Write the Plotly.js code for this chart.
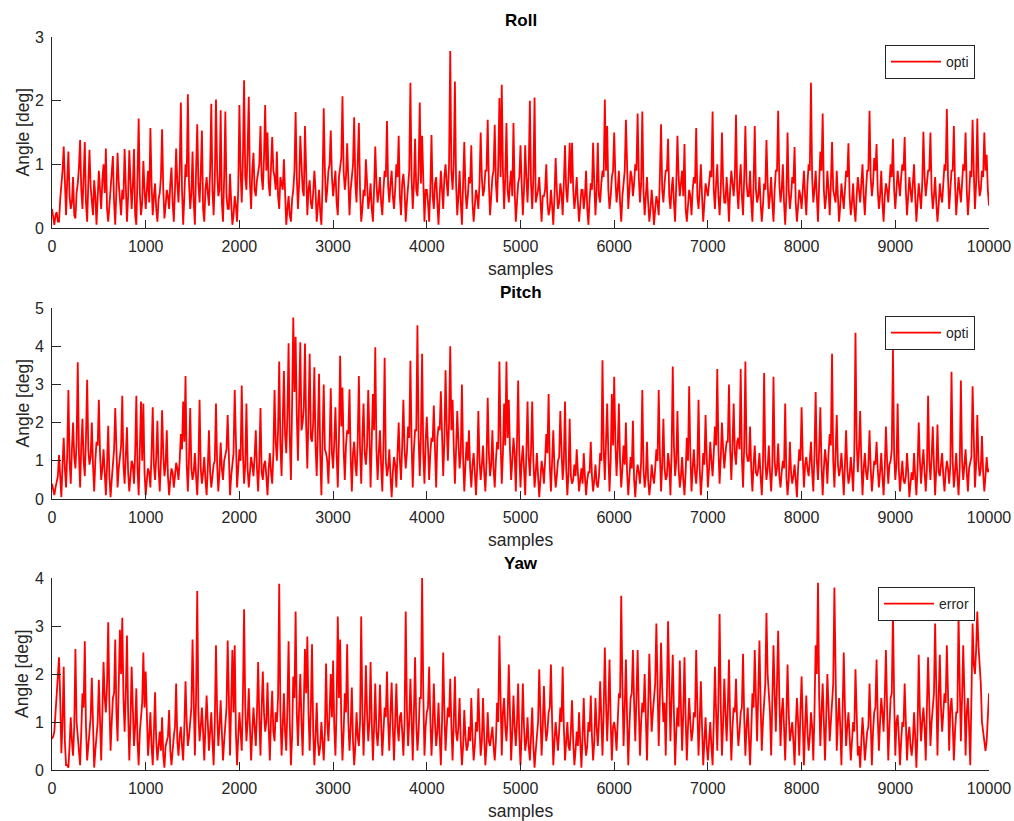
<!DOCTYPE html>
<html>
<head>
<meta charset="utf-8">
<script src="https://cdn.plot.ly/plotly-3.0.1.min.js"></script>
<style>
html,body{margin:0;padding:0;background:#fff;}
#chart{width:1014px;height:821px;}
</style>
</head>
<body>
<div id="chart"></div>
<script>
// Values at two interleaved sample grids:
// "A" arrays at samples 0, 25, 50, ... 10000 ; "B" arrays at 12.5, 37.5, ... 9987.5
const STEP = 25;

// Roll angle [deg]
const rollA = [
0.3,0.05,0.25,0.1,0.65,1.28,0.2,1.2,0.3,0.8,0.15,0.7,1.38,0.3,1.35,0.1,1.23,0.4,0.75,0.05,0.9,0.3,1.0,1.25,0.1,0.6,1.13,0.05,1.18,0.35,0.6,1.24,0.1,1.22,0.3,1.24,0.05,1.72,0.2,1.05,
0.3,0.9,1.57,0.2,0.7,0.1,0.55,1.55,0.15,0.6,0.3,0.95,0.1,1.25,0.4,1.97,0.05,1.0,2.1,0.3,1.2,0.05,1.63,0.4,1.53,0.1,0.8,0.35,1.95,0.2,2.02,0.5,1.85,0.1,1.83,0.3,0.85,0.05,0.5,0.1,
1.93,0.4,2.32,0.6,2.06,0.3,1.18,0.5,0.9,1.6,0.6,1.93,1.5,0.5,1.43,0.8,1.2,0.3,0.7,1.08,0.05,0.5,0.1,0.6,1.82,0.3,1.45,0.6,1.6,0.2,0.75,0.3,0.9,0.1,0.6,0.05,1.88,0.4,0.9,1.53,
0.5,0.9,0.2,1.0,2.07,0.6,1.33,0.2,0.8,1.74,0.4,1.65,0.1,0.6,1.08,0.3,0.7,0.1,1.28,0.4,0.8,0.2,0.9,1.68,0.4,0.9,0.3,1.0,1.45,0.2,0.85,0.1,0.7,2.28,0.3,1.4,0.5,1.97,1.45,0.1,
0.6,0.1,1.46,0.3,0.8,0.05,0.9,0.3,1.0,0.5,2.78,0.6,2.3,0.2,0.9,0.05,1.35,0.3,0.8,1.3,0.1,0.6,0.3,1.5,0.5,0.9,1.7,0.2,0.8,1.62,0.4,2.04,2.25,0.3,1.65,0.4,0.9,1.65,0.1,0.7,
1.3,0.2,1.3,0.4,2.0,0.3,2.05,0.5,0.8,0.1,0.5,1.0,0.2,0.6,0.05,1.1,0.3,0.7,0.2,1.3,0.4,1.34,1.34,0.3,0.8,0.1,0.6,0.3,0.9,0.05,0.7,1.34,0.2,1.34,0.4,0.9,2.02,1.6,0.3,0.8,
1.5,0.4,0.9,0.1,0.7,1.7,0.3,0.9,0.5,1.0,1.8,0.4,1.83,0.2,0.8,0.1,0.6,0.05,0.5,0.2,1.63,0.4,0.9,1.4,0.3,0.8,0.1,1.45,0.5,0.9,1.32,0.1,0.6,0.2,0.8,1.57,0.3,1.0,0.1,0.7,
0.5,0.9,1.83,0.3,1.0,0.2,1.5,0.4,0.8,0.1,0.9,0.5,1.78,0.3,1.0,0.2,1.6,0.5,0.9,0.1,1.6,0.4,0.8,0.1,0.7,1.38,0.3,0.8,0.1,0.9,1.84,0.4,1.0,0.05,1.5,0.3,0.8,1.27,0.1,0.6,
0.3,0.9,0.2,1.0,2.28,0.4,0.9,0.1,1.2,1.8,0.3,0.9,0.2,1.35,0.5,0.9,0.1,0.7,0.3,0.9,1.33,0.2,0.7,0.1,0.8,0.4,1.0,0.2,0.9,1.84,0.5,1.1,1.32,0.3,0.9,0.1,0.7,0.4,1.0,1.4,
0.3,0.9,0.5,1.0,1.43,0.2,0.8,0.4,1.0,0.1,0.7,0.3,1.51,0.5,0.9,1.5,0.3,0.8,0.1,0.7,0.4,1.0,1.87,0.3,0.9,1.6,0.2,0.8,0.4,1.0,1.5,0.2,0.9,1.7,0.3,1.72,0.5,0.9,1.5,1.15,
0.35
];
const rollB = [
0.15,0.2,0.1,0.45,0.9,0.6,0.75,0.5,0.4,0.2,0.55,0.95,0.6,0.8,0.4,0.7,0.65,0.2,0.5,0.45,0.6,0.75,0.55,0.3,0.35,0.8,0.4,0.6,0.7,0.2,0.45,0.6,0.5,0.75,0.65,0.2,0.8,0.55,0.4,0.6,
0.6,0.4,0.7,0.5,0.3,0.45,0.8,0.6,0.35,0.5,0.7,0.4,0.6,0.7,0.9,0.6,0.5,0.8,0.7,0.55,0.4,0.9,0.7,0.85,0.3,0.6,0.55,0.9,0.6,0.75,0.9,0.6,0.4,0.8,0.5,0.3,0.4,0.2,0.35,0.6,
0.9,1.1,0.8,1.2,0.7,0.9,0.6,0.75,1.0,0.8,1.1,0.9,0.7,1.0,0.9,0.6,0.5,0.8,0.6,0.4,0.3,0.2,0.45,0.9,0.8,0.7,1.0,0.5,0.9,0.6,0.4,0.55,0.6,0.35,0.25,0.7,0.9,0.6,1.0,0.8,
0.7,0.4,0.8,1.1,0.9,0.8,0.5,0.6,1.0,0.7,0.9,0.6,0.3,0.5,0.7,0.45,0.3,0.6,0.7,0.55,0.4,0.6,0.8,0.65,0.7,0.5,0.6,0.8,0.5,0.7,0.6,0.4,0.9,0.8,0.7,0.6,0.9,0.7,0.5,0.6,
0.4,0.6,0.5,0.7,0.4,0.5,0.6,0.8,0.7,1.0,0.9,1.0,0.7,0.5,0.4,0.7,0.6,0.5,0.7,0.4,0.35,0.5,0.7,0.8,0.6,0.9,0.7,0.5,0.9,0.7,1.0,0.8,0.9,0.8,0.6,0.7,0.5,0.6,0.4,0.8,
0.7,0.6,0.8,0.9,0.7,0.8,0.4,0.6,0.3,0.5,0.6,0.4,0.3,0.35,0.5,0.6,0.4,0.55,0.7,0.6,0.8,0.7,0.6,0.5,0.4,0.35,0.6,0.5,0.3,0.45,0.6,0.7,0.6,0.5,0.7,0.8,0.9,0.6,0.5,0.9,
0.8,0.6,0.4,0.5,0.9,0.7,0.6,0.8,0.7,0.9,0.8,0.7,0.6,0.5,0.4,0.3,0.35,0.3,0.4,0.8,0.6,0.7,0.9,0.5,0.6,0.4,0.7,0.8,0.7,0.5,0.3,0.35,0.5,0.6,0.7,0.5,0.6,0.5,0.4,0.6,
0.7,0.8,0.6,0.7,0.5,0.6,0.7,0.4,0.5,0.6,0.7,0.8,0.6,0.7,0.5,0.8,0.7,0.5,0.4,0.7,0.6,0.5,0.4,0.35,0.6,0.7,0.5,0.4,0.6,0.9,0.7,0.6,0.4,0.5,0.6,0.5,0.7,0.4,0.35,0.5,
0.6,0.5,0.7,0.9,0.8,0.6,0.5,0.7,0.9,0.6,0.5,0.6,0.7,0.6,0.4,0.5,0.35,0.5,0.6,0.8,0.5,0.4,0.3,0.5,0.6,0.7,0.5,0.6,0.9,0.8,0.7,0.9,0.6,0.5,0.4,0.5,0.6,0.7,0.8,0.6,
0.6,0.7,0.8,0.9,0.6,0.5,0.6,0.7,0.5,0.4,0.5,0.7,0.8,0.7,0.9,0.6,0.5,0.4,0.35,0.5,0.7,0.9,0.8,0.6,0.9,0.7,0.5,0.6,0.7,0.9,0.6,0.5,0.8,0.9,0.7,0.8,0.6,0.8,0.9,0.6
];

// Pitch angle [deg]
const pitchA = [
0.4,0.1,0.45,1.15,0.05,1.6,0.3,2.85,0.4,2.0,0.8,3.58,0.3,2.1,0.6,3.12,0.9,2.0,0.2,1.5,2.6,0.5,1.3,0.1,1.92,0.05,0.9,2.38,0.3,1.2,2.7,0.4,1.88,0.2,1.0,0.4,2.7,0.1,2.55,2.5,
0.1,0.8,0.3,2.4,0.5,2.05,0.2,2.32,0.6,1.8,0.1,0.8,0.3,0.95,0.5,1.7,2.55,3.22,0.2,2.38,0.5,1.2,0.1,2.6,0.4,1.1,0.1,1.8,0.3,0.9,2.5,0.2,1.48,0.5,1.2,2.2,0.1,0.9,2.85,0.3,
1.3,2.97,0.4,2.5,0.3,1.1,0.6,1.8,0.2,2.38,0.5,1.0,0.1,1.2,0.4,2.85,1.0,3.6,0.6,3.35,1.2,4.08,0.5,4.75,4.25,1.0,4.1,2.0,4.07,0.8,3.8,1.5,3.45,0.6,3.28,0.1,3.0,1.2,0.4,2.9,
0.8,2.4,0.3,3.75,2.92,0.5,1.8,2.87,0.2,1.5,0.6,3.22,0.4,2.5,0.9,2.85,0.3,2.75,3.97,0.5,1.8,0.2,3.7,0.6,1.3,0.05,1.1,0.3,2.0,0.5,2.6,0.8,1.9,3.62,0.3,1.8,4.55,0.6,3.8,0.4,
2.15,0.5,1.6,2.45,0.3,1.9,2.82,0.6,3.37,1.0,4.0,2.6,0.4,2.3,0.8,3.0,0.2,1.5,1.8,0.3,1.2,0.1,2.3,0.5,1.4,0.2,2.65,0.6,1.8,0.3,1.5,3.6,0.4,2.5,3.6,2.6,0.5,1.6,0.2,3.1,
0.3,1.4,0.1,2.55,0.6,2.55,0.3,1.2,0.05,1.0,0.4,1.7,2.75,0.2,1.8,0.3,1.0,2.3,0.5,2.55,0.1,2.1,0.4,0.9,1.3,0.2,0.8,1.2,0.1,0.7,1.5,0.2,0.9,0.3,1.2,3.63,0.5,2.5,0.2,2.75,
3.2,0.6,2.5,0.3,1.4,2.0,0.1,1.1,2.05,0.05,0.9,0.4,2.85,0.3,1.5,0.1,0.9,0.4,1.3,2.85,0.2,2.1,0.5,1.2,0.1,3.47,0.6,2.3,0.3,1.1,0.1,1.6,2.95,0.2,1.3,0.4,2.6,0.1,1.2,2.2,
0.3,1.5,0.6,1.9,3.4,0.4,2.0,0.8,1.5,3.0,0.5,2.5,0.9,1.6,3.4,0.3,3.6,1.0,1.9,0.2,1.4,0.6,1.2,0.1,3.3,0.5,1.4,0.2,3.2,0.6,1.45,0.3,1.0,2.5,0.1,1.5,0.4,0.9,0.05,1.3,
2.4,0.3,1.1,0.6,1.5,0.2,2.8,0.5,2.4,0.1,1.3,0.4,1.7,3.8,0.3,2.2,0.6,1.2,0.1,1.8,0.4,1.1,0.2,4.35,0.7,2.3,0.1,1.2,0.5,1.8,0.2,1.0,1.5,0.3,1.2,0.1,1.9,0.4,1.0,3.9,
0.5,2.5,0.2,1.0,0.4,1.2,0.05,0.7,1.2,0.1,2.0,0.4,1.3,0.2,2.7,0.5,1.9,0.1,1.95,0.6,1.2,0.2,1.0,0.4,3.33,0.3,1.2,0.1,3.1,0.5,1.3,0.2,1.0,2.95,0.3,2.2,0.6,1.65,0.2,1.1,
0.8
];
const pitchB = [
0.2,0.3,0.6,0.5,0.9,0.8,1.2,1.0,1.3,1.1,1.5,1.2,1.4,1.0,1.6,1.3,1.1,0.9,1.0,1.4,1.2,0.8,0.7,0.9,0.6,0.5,1.3,1.0,0.8,1.4,0.9,1.1,0.7,0.6,0.9,1.2,0.8,1.3,1.0,0.7,
0.5,0.7,1.2,0.9,1.1,0.8,1.0,1.2,0.9,0.6,0.5,0.7,0.6,0.8,1.0,1.3,1.5,0.9,1.1,0.8,0.7,0.6,0.9,0.8,0.7,0.5,0.8,0.7,0.6,1.0,0.9,0.7,0.8,1.0,1.3,0.9,0.6,1.2,1.0,0.8,
1.0,1.2,0.9,0.8,0.7,0.9,1.1,0.8,1.0,0.7,0.9,0.6,0.8,0.7,1.2,1.5,1.8,1.4,2.0,1.7,2.2,1.6,2.5,2.8,2.2,2.6,1.8,2.4,1.9,2.2,1.6,2.0,1.4,1.8,1.2,1.6,1.3,1.0,1.4,1.2,
1.5,1.2,1.6,1.9,1.3,1.4,1.7,1.1,1.2,0.9,1.5,1.3,1.6,1.2,1.4,1.7,1.5,1.8,1.3,1.2,0.9,1.4,1.0,0.8,0.6,0.7,0.9,1.2,1.0,1.4,1.3,1.2,1.6,1.5,1.3,1.8,1.6,1.7,1.2,1.5,
1.4,1.2,1.5,1.3,1.6,1.8,1.7,1.5,1.9,2.0,1.8,1.4,1.3,1.5,1.2,1.1,0.9,1.0,0.8,0.9,0.7,0.8,1.0,0.9,0.7,1.0,1.2,0.9,0.8,1.0,1.3,1.5,1.2,1.4,1.6,1.3,1.0,1.2,1.5,1.2,
1.0,0.8,1.2,1.1,1.3,1.0,0.7,0.6,0.5,0.8,1.0,1.2,0.9,1.0,0.8,0.6,1.1,1.3,1.0,0.8,0.7,0.6,0.5,0.6,0.7,0.5,0.4,0.6,0.5,0.7,0.6,0.5,0.4,0.6,1.0,1.3,1.5,1.2,1.0,1.4,
1.5,1.3,1.0,0.8,0.9,0.7,0.6,0.8,0.5,0.6,0.7,1.0,0.8,0.6,0.5,0.4,0.6,0.8,1.0,1.2,0.9,0.8,0.6,0.9,1.2,1.4,1.0,0.8,0.6,0.5,0.7,1.0,1.2,0.8,0.7,0.9,0.8,0.6,0.9,1.1,
0.8,1.0,1.2,1.4,1.3,1.1,1.3,1.2,1.5,1.3,1.4,1.2,1.5,1.3,1.1,1.4,1.2,1.0,0.8,0.9,0.7,0.8,0.6,0.9,1.0,0.8,0.7,0.9,1.0,0.8,0.6,0.7,0.8,0.6,0.5,0.7,0.6,0.5,0.8,1.0,
1.1,0.9,0.8,1.0,0.7,1.2,1.0,1.3,0.9,0.8,1.0,1.2,1.4,1.0,1.2,0.9,0.8,0.7,0.9,0.8,0.6,0.7,1.2,1.5,1.3,1.0,0.8,0.7,0.9,0.8,0.6,0.9,0.8,0.7,0.6,0.8,1.0,0.9,1.3,1.2,
0.9,0.8,0.6,0.5,0.6,0.7,0.4,0.5,0.6,0.8,1.0,0.9,0.7,0.8,1.0,1.1,0.9,0.8,0.7,0.9,0.6,0.7,0.8,0.9,1.0,0.7,0.6,0.8,1.0,0.9,0.7,0.8,1.1,1.2,0.9,1.0,0.8,0.7,0.6,0.7
];

// Yaw error [deg]
const yawA = [
0.65,0.8,1.5,2.35,0.35,2.15,0.1,0.05,1.1,0.3,2.52,0.7,0.1,1.6,2.68,0.2,0.9,1.92,0.05,0.8,1.88,0.2,2.25,1.2,3.08,0.4,1.5,2.72,0.6,2.92,3.17,0.8,2.8,0.2,2.15,0.5,1.7,0.1,1.2,2.45,
2.05,0.3,1.2,0.1,1.62,0.2,0.8,1.1,0.05,0.6,1.25,0.1,0.7,1.8,0.3,0.9,0.2,1.85,0.5,1.0,2.72,0.3,3.73,0.6,1.3,0.2,1.55,0.4,1.2,0.1,2.6,0.5,1.45,0.2,1.1,2.7,0.3,2.5,2.6,0.1,
1.2,0.4,3.35,0.6,1.7,0.2,1.3,0.5,2.25,0.3,2.05,0.8,1.82,0.2,1.65,0.6,1.0,3.88,0.3,1.6,0.4,2.68,0.1,1.95,3.3,0.5,2.0,0.3,2.52,2.78,0.4,2.62,0.1,1.4,0.3,1.0,0.2,2.22,0.6,2.0,
2.28,0.3,3.2,2.72,0.2,1.6,2.62,0.4,1.72,0.1,1.2,0.5,3.2,0.3,2.18,0.6,2.25,0.2,1.8,0.5,1.78,0.3,1.3,2.05,0.4,1.82,0.2,1.8,0.6,1.2,0.3,3.3,0.5,1.9,0.2,2.35,0.4,1.5,4.0,0.3,
1.2,2.15,0.3,1.8,0.5,1.4,0.1,2.45,0.4,1.3,1.9,0.2,1.95,0.6,1.5,0.1,1.25,0.4,0.9,1.5,0.2,1.0,1.7,0.3,1.5,0.1,1.2,0.5,0.9,0.2,1.4,2.8,0.3,1.5,0.6,2.2,0.2,1.55,0.5,1.8,
0.1,1.8,0.4,1.1,0.2,1.3,0.05,0.8,2.1,0.3,1.75,0.6,1.2,2.2,0.1,1.0,0.4,1.3,2.15,0.2,1.0,0.4,1.45,0.1,0.8,1.2,0.05,1.5,0.3,1.0,1.55,0.2,1.5,0.5,1.85,0.3,2.55,0.6,2.3,0.2,
1.0,0.4,1.6,3.63,0.5,2.3,0.1,1.5,2.5,0.6,2.5,0.3,1.4,2.0,0.2,2.42,0.8,1.6,3.05,0.5,2.65,1.0,0.3,3.1,0.6,2.4,0.1,1.3,2.28,0.4,2.35,0.2,1.5,0.6,1.2,2.5,0.3,1.85,0.1,1.1,
0.2,1.0,0.1,2.15,0.4,3.25,0.3,1.9,0.6,2.3,0.2,1.3,1.9,0.5,1.2,2.42,0.3,1.3,0.1,1.6,2.5,0.6,2.7,0.4,1.5,3.27,1.6,0.3,2.6,0.8,2.9,0.5,1.5,0.2,2.2,0.6,1.0,0.1,1.5,0.3,
1.95,0.1,1.55,0.4,1.2,0.2,2.6,3.9,0.5,1.8,0.2,2.0,0.6,1.4,3.8,0.4,1.5,0.1,2.45,0.5,1.2,0.2,1.0,2.1,0.3,0.05,1.1,0.2,0.8,1.8,0.1,1.2,2.3,0.4,1.5,0.8,2.5,0.2,1.5,3.3,
0.3,1.15,0.1,1.0,1.8,0.2,0.9,0.3,1.2,0.05,2.4,0.6,1.3,0.2,2.35,0.5,1.4,3.05,0.3,2.4,0.8,1.6,2.6,0.4,1.5,0.2,1.2,3.25,0.6,2.6,0.3,1.5,0.1,3.05,2.0,3.3,2.2,1.0,0.5,0.6,
1.6
];
const yawB = [
0.7,1.2,1.9,1.5,1.0,0.6,0.1,0.5,0.6,0.9,1.0,0.4,0.8,1.3,0.9,0.5,1.1,0.8,0.4,1.0,0.9,1.2,1.5,1.8,1.4,1.0,1.6,1.2,1.8,2.0,1.5,1.6,1.2,1.0,1.3,0.9,0.6,0.8,1.4,1.3,
1.0,0.7,0.5,0.8,0.6,0.5,0.4,0.3,0.5,0.7,0.4,0.5,0.9,0.6,0.7,0.5,0.9,1.0,0.7,1.3,1.0,1.5,1.2,0.9,0.8,0.9,1.0,0.8,0.6,1.0,1.2,0.9,0.8,0.6,1.3,1.1,1.4,1.2,0.8,0.7,
0.8,1.5,1.3,1.0,0.9,0.8,0.9,1.2,1.1,1.3,1.2,1.0,0.9,1.1,0.8,1.2,1.5,1.2,0.9,0.8,1.3,1.0,0.7,1.5,1.2,1.3,1.0,1.4,1.6,1.2,1.3,0.8,0.7,0.6,0.5,0.6,0.8,1.0,1.2,1.1,
0.9,1.3,1.5,1.0,0.8,1.2,1.0,0.9,0.6,0.5,0.7,1.0,1.2,1.1,1.2,1.0,1.0,0.9,0.8,0.9,1.0,0.8,1.1,1.0,1.2,0.9,1.0,0.9,1.1,0.8,1.0,1.3,1.0,1.1,1.2,1.0,0.8,1.5,1.6,0.9,
1.3,1.1,0.9,1.0,0.8,0.7,1.0,1.2,0.9,1.1,0.9,1.0,0.8,0.9,0.6,0.5,0.7,0.5,0.6,0.7,0.5,0.8,0.9,0.6,0.7,0.5,0.6,0.7,0.5,0.6,1.0,1.5,1.2,0.9,1.1,1.2,0.8,0.9,1.0,0.7,
0.8,0.9,0.6,0.5,0.7,0.5,0.4,1.0,1.2,0.9,1.0,0.8,1.3,1.0,0.6,0.7,0.8,1.0,0.9,0.6,0.5,0.8,0.6,0.4,0.5,0.6,0.7,0.6,0.5,0.8,0.7,0.6,0.9,1.0,1.1,1.2,1.4,1.3,1.0,0.9,
0.8,1.0,1.5,1.8,1.3,1.1,0.9,1.6,1.4,1.5,1.3,1.0,1.2,1.1,1.3,1.5,1.2,1.8,1.6,1.5,1.7,1.4,1.6,1.8,1.5,1.2,0.8,0.9,1.3,1.2,1.1,0.9,1.0,0.8,1.1,1.3,1.0,0.9,0.6,0.5,
0.6,0.5,1.0,1.2,1.5,1.3,1.0,1.2,1.3,1.0,0.9,1.2,1.0,0.8,1.3,1.1,0.9,0.7,0.8,1.3,1.5,1.6,1.4,1.0,1.8,2.0,1.2,1.4,1.6,1.8,1.5,1.2,0.9,1.1,1.2,0.8,0.6,0.9,1.0,1.2,
1.0,0.9,0.8,0.7,0.9,1.2,2.0,1.5,1.2,1.0,1.1,1.3,1.0,1.8,1.5,1.0,0.9,1.2,1.3,0.9,0.7,0.6,0.8,1.2,0.5,0.6,0.7,0.5,0.9,1.0,0.8,1.3,1.1,1.0,1.2,1.5,1.3,0.9,1.6,1.5,
1.0,0.7,0.6,0.9,1.0,0.7,0.5,0.6,0.7,0.8,1.2,1.0,0.9,1.3,1.4,1.0,1.6,1.8,1.5,1.3,1.2,1.4,1.6,1.3,1.0,0.8,1.2,1.8,1.5,1.6,1.2,0.9,1.5,2.2,2.5,2.6,1.8,0.8,0.4,1.0
];

const xTicks = [0,1000,2000,3000,4000,5000,6000,7000,8000,9000,10000];
const rollTicks = [0,1,2,3];
const pitchTicks = [0,1,2,3,4,5];
const yawTicks = [0,1,2,3,4];
const titles = ['Roll','Pitch','Yaw'];
const legendNames = ['opti','opti','error'];
const xLabel = 'samples';
const yLabel = 'Angle [deg]';

// merge the two interleaved reading grids into one ordered series
function merge(a, b) {
  const xs = [], ys = [];
  for (let i = 0; i < a.length; i++) {
    xs.push(i * STEP); ys.push(a[i]);
    if (i < b.length) { xs.push(i * STEP + STEP / 2); ys.push(b[i]); }
  }
  return {xs, ys};
}
const series = [merge(rollA, rollB), merge(pitchA, pitchB), merge(yawA, yawB)];

const W = 1014, H = 821;
const px = v => v / W;
const py = v => 1 - v / H;

const FONT = 'Liberation Sans, Arial, Helvetica, sans-serif';
const AX = '#262626';

const traces = series.map((s, k) => ({
  x: s.xs, y: s.ys, type: 'scatter', mode: 'lines',
  name: legendNames[k],
  line: {color: '#ff0000', width: 1.8},
  xaxis: k === 0 ? 'x' : 'x' + (k + 1),
  yaxis: k === 0 ? 'y' : 'y' + (k + 1),
  legend: k === 0 ? 'legend' : 'legend' + (k + 1),
  showlegend: true
}));

// pixel geometry of each panel: [top, bottom]
const panels = [[37, 228], [308, 499], [578, 770]];
const yRanges = [[0,3],[0,5],[0,4]];
const yTicksAll = [rollTicks, pitchTicks, yawTicks];
const titleY = [21, 292.5, 563];
const legendTop = [45, 316, 587];

function xAxis(k) {
  return {
    domain: [px(52), px(989)], range: [0, 10000],
    anchor: k === 0 ? 'y' : 'y' + (k + 1),
    tickvals: xTicks, ticktext: xTicks.map(String),
    ticks: 'inside', ticklen: 8, tickwidth: 1, tickcolor: AX,
    showline: true, linecolor: AX, linewidth: 1,
    showgrid: false, zeroline: false, mirror: false,
    tickfont: {family: FONT, size: 16, color: AX},
    ticklabelstandoff: 4,
    fixedrange: true
  };
}
function yAxis(k) {
  return {
    domain: [py(panels[k][1]), py(panels[k][0])], range: yRanges[k],
    anchor: k === 0 ? 'x' : 'x' + (k + 1),
    tickvals: yTicksAll[k], ticktext: yTicksAll[k].map(String),
    ticks: 'inside', ticklen: 9, tickwidth: 1, tickcolor: AX,
    showline: true, linecolor: AX, linewidth: 1,
    showgrid: false, zeroline: false, mirror: false,
    tickfont: {family: FONT, size: 16, color: AX},
    ticklabelstandoff: 4,
    fixedrange: true
  };
}

const annotations = [];
for (let k = 0; k < 3; k++) {
  annotations.push({
    xref: 'paper', yref: 'paper', x: px(520.5), y: py(titleY[k]),
    xanchor: 'center', yanchor: 'middle', showarrow: false,
    text: '<b>' + titles[k] + '</b>',
    font: {family: FONT, size: 17, color: '#000'}
  });
  annotations.push({
    xref: 'paper', yref: 'paper', x: px(520.5), y: py(panels[k][1] + 41),
    xanchor: 'center', yanchor: 'middle', showarrow: false,
    text: xLabel,
    font: {family: FONT, size: 17.5, color: AX}
  });
  annotations.push({
    xref: 'paper', yref: 'paper', x: px(22), y: py((panels[k][0] + panels[k][1]) / 2),
    xanchor: 'center', yanchor: 'middle', showarrow: false, textangle: -90,
    text: yLabel,
    font: {family: FONT, size: 17.5, color: AX}
  });
}

function legend(k) {
  return {
    x: px(975), y: py(legendTop[k]), xanchor: 'right', yanchor: 'top',
    xref: 'paper', yref: 'paper',
    bgcolor: '#ffffff', bordercolor: AX, borderwidth: 1,
    font: {family: FONT, size: 14, color: AX},
    itemwidth: 50, tracegroupgap: 0
  };
}

const layout = {
  width: W, height: H,
  margin: {l: 0, r: 0, t: 0, b: 0, pad: 0},
  paper_bgcolor: '#ffffff', plot_bgcolor: '#ffffff',
  showlegend: true,
  xaxis: xAxis(0), xaxis2: xAxis(1), xaxis3: xAxis(2),
  yaxis: yAxis(0), yaxis2: yAxis(1), yaxis3: yAxis(2),
  legend: legend(0), legend2: legend(1), legend3: legend(2),
  annotations: annotations
};

Plotly.newPlot('chart', traces, layout, {displayModeBar: false, staticPlot: true});
</script>
</body>
</html>
